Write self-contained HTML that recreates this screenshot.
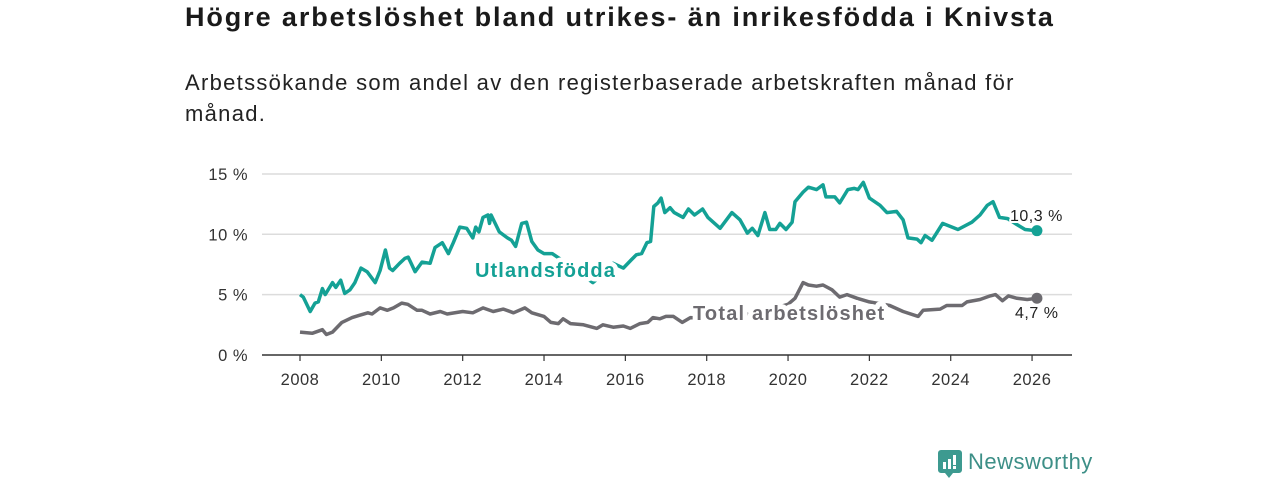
<!DOCTYPE html>
<html><head><meta charset="utf-8"><style>
body{margin:0;background:#fff;font-family:"Liberation Sans","DejaVu Sans",sans-serif;}
#wrap{position:relative;width:1280px;height:480px;overflow:hidden;}
h1{position:absolute;left:185px;top:2px;margin:0;font-size:27px;letter-spacing:1.9px;font-weight:bold;color:#1a1a1a;white-space:nowrap;}
.sub{position:absolute;left:185px;top:67px;margin:0;font-size:22px;letter-spacing:1.3px;line-height:31px;color:#222;width:860px;}
</style></head><body>
<div id="wrap">
<h1>Högre arbetslöshet bland utrikes- än inrikesfödda i Knivsta</h1>
<p class="sub">Arbetssökande som andel av den registerbaserade arbetskraften månad för månad.</p>
<svg id="chart" width="1280" height="480" style="position:absolute;left:0;top:0"></svg>
<div style="position:absolute;left:938px;top:450px;">
<svg width="24" height="28" style="position:absolute;left:0;top:0"><path d="M3 0h18a3 3 0 0 1 3 3v17a3 3 0 0 1-3 3h-6l-4 5-4-5H3a3 3 0 0 1-3-3V3a3 3 0 0 1 3-3z" fill="#3d9a90"/><rect x="5" y="12" width="3" height="7" fill="#fff"/><rect x="10" y="9" width="3" height="10" fill="#fff"/><rect x="15" y="5" width="3" height="10" fill="#fff"/><rect x="15" y="16" width="3" height="3" fill="#fff"/></svg>
<span style="position:absolute;left:30px;top:-1px;font-size:22px;letter-spacing:0.5px;color:#3d8f87;white-space:nowrap;">Newsworthy</span>
</div>
</div>
<script>
const yearTicks=[2008,2010,2012,2014,2016,2018,2020,2022,2024,2026];
const valueTicks=[0,5,10,15];
const utlYears=[2008.0,2008.08,2008.25,2008.37,2008.45,2008.55,2008.62,2008.8,2008.88,2009.0,2009.1,2009.23,2009.35,2009.5,2009.65,2009.85,2009.97,2010.1,2010.2,2010.28,2010.45,2010.58,2010.66,2010.72,2010.83,2011.0,2011.2,2011.32,2011.5,2011.65,2011.77,2011.93,2012.1,2012.25,2012.32,2012.4,2012.5,2012.62,2012.66,2012.7,2012.9,2013.1,2013.2,2013.3,2013.45,2013.57,2013.7,2013.85,2014.0,2014.2,2014.6,2015.0,2015.2,2015.5,2015.7,2015.95,2016.15,2016.27,2016.4,2016.53,2016.62,2016.7,2016.8,2016.88,2016.97,2017.1,2017.2,2017.42,2017.55,2017.7,2017.9,2018.03,2018.33,2018.62,2018.82,2019.0,2019.12,2019.26,2019.43,2019.55,2019.7,2019.8,2019.95,2020.1,2020.17,2020.37,2020.5,2020.7,2020.86,2020.93,2021.15,2021.27,2021.47,2021.63,2021.72,2021.85,2022.0,2022.26,2022.43,2022.67,2022.83,2022.95,2023.17,2023.27,2023.37,2023.54,2023.8,2024.18,2024.52,2024.72,2024.9,2025.04,2025.2,2025.4,2025.63,2025.83,2026.12];
const utlValues=[5.0,4.8,3.6,4.3,4.4,5.5,5.0,6.0,5.6,6.2,5.1,5.4,6.0,7.2,6.9,6.0,7.0,8.7,7.2,7.0,7.6,8.0,8.1,7.7,6.9,7.7,7.6,8.9,9.3,8.4,9.3,10.6,10.5,9.7,10.6,10.2,11.4,11.6,10.9,11.6,10.2,9.7,9.5,9.0,10.9,11.0,9.4,8.7,8.4,8.4,7.5,6.5,6.0,6.8,7.6,7.2,7.9,8.3,8.4,9.3,9.4,12.3,12.6,13.0,11.8,12.2,11.8,11.4,12.1,11.6,12.1,11.4,10.5,11.8,11.2,10.1,10.5,9.9,11.8,10.4,10.4,10.9,10.4,11.0,12.7,13.5,13.9,13.7,14.1,13.1,13.1,12.6,13.7,13.8,13.7,14.3,13.0,12.4,11.8,11.9,11.2,9.7,9.6,9.3,9.9,9.5,10.9,10.4,11.0,11.6,12.4,12.7,11.4,11.3,10.8,10.4,10.3];
const totYears=[2008.0,2008.3,2008.55,2008.65,2008.8,2009.03,2009.28,2009.47,2009.67,2009.77,2009.97,2010.15,2010.3,2010.5,2010.65,2010.88,2011.0,2011.2,2011.45,2011.62,2012.0,2012.25,2012.5,2012.75,2013.0,2013.25,2013.53,2013.7,2014.0,2014.17,2014.35,2014.47,2014.65,2014.97,2015.3,2015.45,2015.7,2015.95,2016.12,2016.36,2016.55,2016.68,2016.85,2017.0,2017.18,2017.4,2017.6,2018.2,2018.8,2019.4,2020.0,2020.17,2020.37,2020.5,2020.7,2020.86,2021.08,2021.27,2021.45,2021.7,2022.0,2022.5,2022.83,2023.2,2023.32,2023.74,2023.9,2024.28,2024.4,2024.72,2024.97,2025.1,2025.27,2025.42,2025.63,2025.88,2026.12];
const totValues=[1.9,1.8,2.1,1.7,1.9,2.7,3.1,3.3,3.5,3.4,3.9,3.7,3.9,4.3,4.2,3.7,3.7,3.4,3.6,3.4,3.6,3.5,3.9,3.6,3.8,3.5,3.9,3.5,3.2,2.7,2.6,3.0,2.6,2.5,2.2,2.5,2.3,2.4,2.2,2.6,2.7,3.1,3.0,3.2,3.2,2.7,3.1,3.0,3.3,3.6,4.2,4.7,6.0,5.8,5.7,5.8,5.4,4.8,5.0,4.7,4.4,4.1,3.6,3.2,3.7,3.8,4.1,4.1,4.4,4.6,4.9,5.0,4.5,4.9,4.7,4.6,4.7];
const NS="http://www.w3.org/2000/svg";
const svg=document.getElementById('chart');
const X=y=>300+(y-2008)*40.67;
const Y=v=>355-v*12.07;
function mk(t,a,p){const e=document.createElementNS(NS,t);for(const k in a)e.setAttribute(k,a[k]);(p||svg).appendChild(e);return e;}
valueTicks.forEach(v=>{
  if(v>0){const g=mk('line',{x1:262,x2:1072,y1:Y(v),y2:Y(v),stroke:'#dcdcdc','stroke-width':1.5});
  
  }
  const t=mk('text',{x:248,y:Y(v)+6,'text-anchor':'end','font-size':16.5,'letter-spacing':0.5,fill:'#333'});t.textContent=v+' %';
  
  
});
const ax=mk('line',{x1:262,x2:1072,y1:355,y2:355,stroke:'#333','stroke-width':1.5});


yearTicks.forEach(y=>{
  mk('line',{x1:X(y),x2:X(y),y1:355,y2:361,stroke:'#333','stroke-width':1.2});
  const t=mk('text',{x:X(y),y:385,'text-anchor':'middle','font-size':16.5,'letter-spacing':0.5,fill:'#333'});t.textContent=y;
  
  
});
function line(xs,vs,col,name){
  const p=mk('path',{d:xs.map((x,i)=>(i?'L':'M')+X(x).toFixed(1)+','+Y(vs[i]).toFixed(1)).join(''),fill:'none',stroke:col,'stroke-width':3.5,'stroke-linejoin':'round'});
  
  
  const n=xs.length-1;
  const c=mk('circle',{cx:X(xs[n]),cy:Y(vs[n]),r:5.5,fill:col});
  
  
}
line(totYears,totValues,'#6d6b70','total-line');
line(utlYears,utlValues,'#14a195','utlandsfodda-line');
function lab(x,y,txt,col,name,size,bold,halo,ls){
  const t=mk('text',{x:x,y:y,'font-size':size,'letter-spacing':ls,fill:col,'font-weight':bold?'bold':'normal',stroke:'#fff','stroke-width':halo,'paint-order':'stroke','stroke-linejoin':'round'});
  t.textContent=txt;
  
  
}
lab(475,277,'Utlandsfödda','#14a195','utlandsfodda-label',20,true,9,1.1);
lab(693,320,'Total arbetslöshet','#6d6b70','total-label',20,true,10,1.2);
lab(1010,221,'10,3 %','#222','utlandsfodda-end-value',16,false,4,0.5);
lab(1015,318,'4,7 %','#222','total-end-value',16,false,4,0.5);
</script>
</body></html>
